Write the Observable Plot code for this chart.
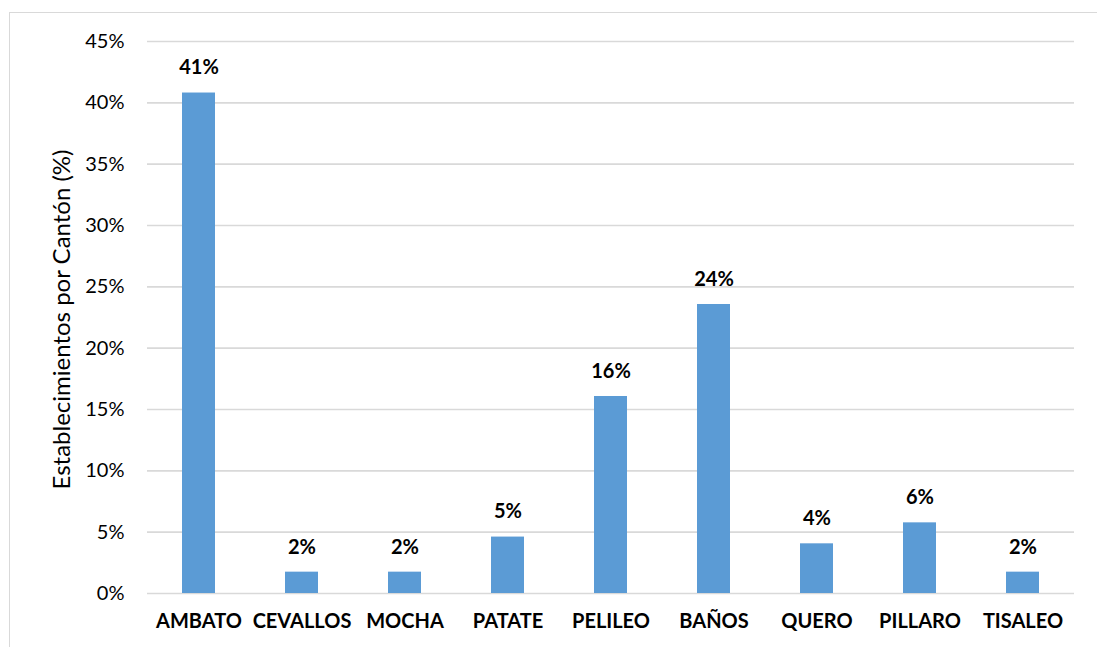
<!DOCTYPE html>
<html>
<head>
<meta charset="utf-8">
<script src="https://cdn.jsdelivr.net/npm/d3@7"></script>
<script src="https://cdn.jsdelivr.net/npm/@observablehq/plot@0.6"></script>
<style>
  html, body { margin: 0; padding: 0; background: #fff; }
  #wrap { position: relative; width: 1097px; height: 647px; overflow: hidden; }
  #frame { position: absolute; left: 9px; top: 12px; width: 1200px; height: 700px; border: 1.5px solid #d9d9d9; box-sizing: border-box; }
  #chart { position: absolute; left: 0; top: 0; }
</style>
</head>
<body>
<div id="wrap"><div id="frame"></div><div id="chart"></div></div>
<script>
const cantones = ["AMBATO", "CEVALLOS", "MOCHA", "PATATE", "PELILEO", "BAÑOS", "QUERO", "PILLARO", "TISALEO"];
const valores = [40.8, 1.74, 1.74, 4.6, 16.06, 23.56, 4.05, 5.76, 1.74];
const yTicks = [0, 5, 10, 15, 20, 25, 30, 35, 40, 45];
const yLabel = "Establecimientos por Cantón (%)";

const data = cantones.map((c, i) => ({canton: c, valor: valores[i]}));
const font = "Lato, 'Open Sans', sans-serif";

const chart = Plot.plot({
  width: 1097,
  height: 647,
  marginLeft: 147,
  marginRight: 23,
  marginTop: 41,
  marginBottom: 54,
  style: {fontFamily: font, background: "transparent", color: "#000"},
  x: {domain: cantones, paddingInner: 0.68, paddingOuter: 0.34, label: null},
  y: {domain: [0, 45], label: null},
  marks: [
    Plot.gridY(yTicks, {stroke: "#d9d9d9", strokeOpacity: 1, strokeWidth: 1.6}),
    Plot.axisY({ticks: yTicks, tickSize: 0, tickPadding: 23, tickFormat: d => d + "%", fontSize: 20, label: null}),
    Plot.text([yLabel], {frameAnchor: "left", textAnchor: "middle", dx: 62 - 147, dy: 2, rotate: -90, fontSize: 24, text: d => d, fill: "#000"}),
    Plot.barY(data, {x: "canton", y: "valor", fill: "#5b9bd5"}),
    Plot.axisX({tickSize: 0, tickPadding: 20, fontSize: 20, fontWeight: "bold", label: null}),
    Plot.text(data, {x: "canton", y: "valor", text: d => Math.round(d.valor) + "%", dy: -25, fontSize: 20, fontWeight: "bold", fill: "#000"})
  ]
});
document.getElementById("chart").appendChild(chart);
</script>
</body>
</html>
